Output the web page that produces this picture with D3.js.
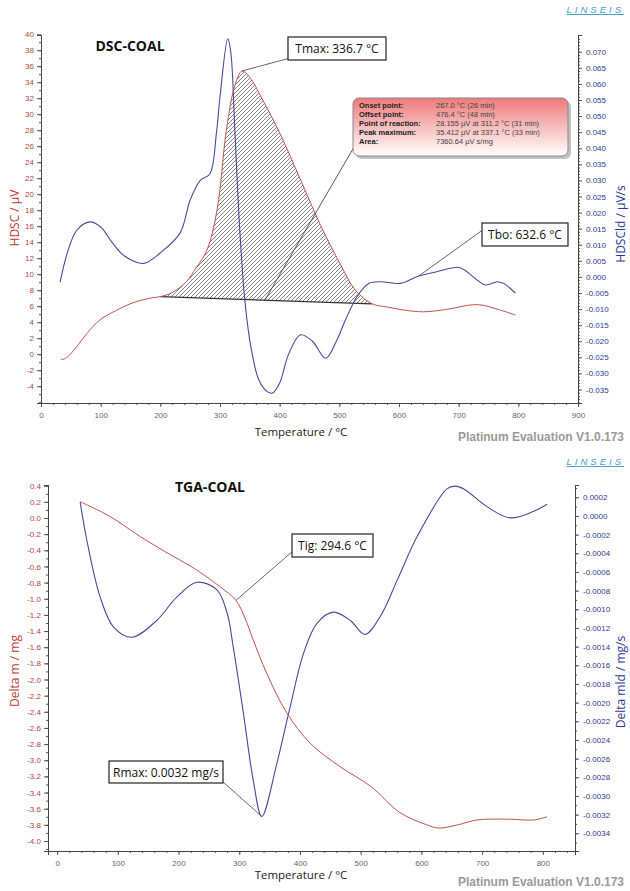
<!DOCTYPE html>
<html>
<head>
<meta charset="utf-8">
<script src="https://cdn.jsdelivr.net/npm/d3@7"></script>
<style>
  body { margin: 0; background: #fff; }
  svg { display: block; }
</style>
</head>
<body>
<svg id="chart"></svg>
<script>
const width = 630;
const height = 891;

// ---- DSC chart data ----
const dscTemp = [33, 37, 45, 60, 77, 99, 127, 155, 183, 200, 220, 244, 260, 278, 295, 311, 325, 337, 350, 370, 401, 435, 468, 502, 527, 555, 580, 610, 641, 680, 731, 770, 795];
const dscSignal = [-0.6, -0.65, -0.3, 0.95, 2.6, 4.3, 5.5, 6.45, 7.0, 7.2, 7.7, 9.1, 10.8, 13.0, 18.0, 28.2, 33.6, 35.4, 34.6, 32.0, 27.5, 21.8, 16.2, 11.2, 8.0, 6.3, 5.9, 5.5, 5.3, 5.6, 6.2, 5.5, 4.9];
const dscDerivTemp = [32, 45, 60, 82, 100, 120, 140, 172, 200, 233, 250, 267, 283, 294, 300, 313, 318, 325, 333, 342, 352, 365, 378, 388, 400, 415, 435, 455, 477, 495, 510, 530, 550, 569, 602, 632, 663, 699, 711, 745, 764, 775, 795];
const dscDeriv = [-0.0016, 0.008, 0.0145, 0.0171, 0.0155, 0.0105, 0.0065, 0.0042, 0.0075, 0.0136, 0.0239, 0.030, 0.032, 0.0447, 0.056, 0.074, 0.07, 0.045, 0.015, -0.008, -0.022, -0.032, -0.0355, -0.0361, -0.033, -0.024, -0.018, -0.02, -0.0253, -0.02, -0.0135, -0.006, -0.002, -0.0015, -0.002, 0.0002, 0.0016, 0.003, 0.002, -0.0025, -0.0015, -0.002, -0.005];
const dscBaseline = [[200, 7.2], [555, 6.3]];
const dscXTicks = [0, 100, 200, 300, 400, 500, 600, 700, 800, 900];
const dscLeftTicks = d3.range(-4, 41, 2);
const dscRightTicks = [-0.035, -0.030, -0.025, -0.020, -0.015, -0.010, -0.005, 0.000, 0.005, 0.010, 0.015, 0.020, 0.025, 0.030, 0.035, 0.040, 0.045, 0.050, 0.055, 0.060, 0.065, 0.070];
const dscInfoLabels = ["Onset point:", "Offset point:", "Point of reaction:", "Peak maximum:", "Area:"];
const dscInfoValues = ["267.0 °C (26 min)", "476.4 °C (48 min)", "28.155 µV at 311.2 °C (31 min)", "35.412 µV at 337.1 °C (33 min)", "7360.64 µV s/mg"];

// ---- TGA chart data ----
const tgaTemp = [38, 50, 87, 137, 181, 225, 268, 294.6, 310, 323, 345, 378, 417, 466, 516, 565, 609, 628, 660, 691, 746, 785, 807];
const tgaMass = [0.2, 0.16, 0.02, -0.23, -0.43, -0.62, -0.85, -1.02, -1.25, -1.51, -1.92, -2.41, -2.79, -3.08, -3.32, -3.65, -3.8, -3.84, -3.8, -3.74, -3.73, -3.74, -3.70];
const tgaDerivTemp = [38, 49, 71, 93, 123, 164, 197, 230, 263, 280, 290, 307, 323, 337, 362, 384, 406, 428, 455, 483, 507, 532, 560, 593, 642, 655, 670, 708, 746, 785, 807];
const tgaDeriv = [0.00015, -0.00026, -0.00087, -0.00119, -0.0013, -0.00112, -0.00087, -0.00071, -0.00079, -0.00104, -0.0014, -0.00212, -0.00283, -0.00322, -0.00265, -0.00204, -0.00147, -0.00115, -0.00103, -0.00112, -0.00127, -0.00108, -0.00069, -0.00022, 0.00029, 0.00032, 0.00029, 0.0001, -0.00002, 0.00005, 0.000125];
const tgaXTicks = [0, 100, 200, 300, 400, 500, 600, 700, 800];
const tgaLeftTicks = d3.range(0.4, -4.01, -0.2).map(v => +v.toFixed(1));
const tgaRightTicks = d3.range(0.0002, -0.00341, -0.0002).map(v => +v.toFixed(4));

const redLine = "#c4524c";
const blueLine = "#4a4a9e";
const redText = "#b5453d";
const blueText = "#2e3a90";

const svg = d3.select("#chart").attr("width", width).attr("height", height);

const defs = svg.append("defs");
// hatch pattern for the reaction area
const hatch = defs.append("pattern")
  .attr("id", "hatch")
  .attr("patternUnits", "userSpaceOnUse")
  .attr("width", 4).attr("height", 4);
hatch.append("path")
  .attr("d", "M-1,1 l2,-2 M0,4 l4,-4 M3,5 l2,-2")
  .attr("stroke", "#333").attr("stroke-width", 0.6);
// pink gradient for the result box
const grad = defs.append("linearGradient").attr("id", "infoGrad").attr("x1", 0).attr("y1", 0).attr("x2", 0).attr("y2", 1);
grad.append("stop").attr("offset", "0%").attr("stop-color", "#ee7a7a");
grad.append("stop").attr("offset", "55%").attr("stop-color", "#f7c4c4");
grad.append("stop").attr("offset", "100%").attr("stop-color", "#ffffff");

const fmtFixed = (n) => (v) => v.toFixed(n);

// draws both axes, curves and the common texts of one panel
function drawPanel(p) {
  const g = svg.append("g");

  const x = d3.scaleLinear().domain(p.xDomain).range(p.xRange);
  const yL = d3.scaleLinear().domain(p.yLDomain).range([p.bottom, p.top]);
  const yR = d3.scaleLinear().domain(p.yRDomain).range([p.bottom, p.top]);

  // minor ticks first
  const xMinor = d3.axisBottom(x).tickValues(p.xMinor).tickSize(2).tickFormat("");
  g.append("g").attr("transform", `translate(0,${p.bottom})`).call(xMinor);
  const yLMinor = d3.axisLeft(yL).tickValues(p.yLMinor).tickSize(2).tickFormat("");
  g.append("g").attr("transform", `translate(${p.xRange[0]},0)`).call(yLMinor);
  const yRMinor = d3.axisRight(yR).tickValues(p.yRMinor).tickSize(2).tickFormat("");
  g.append("g").attr("transform", `translate(${p.xRange[1]},0)`).call(yRMinor);

  // major axes
  const xAxisG = g.append("g").attr("transform", `translate(0,${p.bottom})`)
    .call(d3.axisBottom(x).tickValues(p.xTicks).tickSize(4).tickPadding(5).tickFormat(d => d));
  xAxisG.selectAll("text").attr("fill", "#666");

  const yLAxisG = g.append("g").attr("transform", `translate(${p.xRange[0]},0)`)
    .call(d3.axisLeft(yL).tickValues(p.yLTicks).tickSize(4).tickPadding(3).tickFormat(p.yLFormat));
  yLAxisG.selectAll("text").attr("fill", redText);

  const yRAxisG = g.append("g").attr("transform", `translate(${p.xRange[1]},0)`)
    .call(d3.axisRight(yR).tickValues(p.yRTicks).tickSize(4).tickPadding(4).tickFormat(p.yRFormat));
  yRAxisG.selectAll("text").attr("fill", blueText);

  g.selectAll(".tick line").attr("stroke", "#555");
  g.selectAll(".domain").attr("stroke", "#444");
  g.selectAll(".tick text").style("font-family", "Liberation Sans, Arial, sans-serif").style("font-size", "8px");

  // axis titles
  g.append("text")
    .attr("transform", `translate(${p.leftLabelX},${p.leftLabelY}) rotate(-90)`)
    .attr("text-anchor", "middle")
    .attr("fill", "#c23a34")
    .style("font-family", "Open Sans, sans-serif").style("font-size", "12px")
    .text(p.leftLabel);
  g.append("text")
    .attr("transform", `translate(${p.rightLabelX},${p.rightLabelY}) rotate(-90)`)
    .attr("text-anchor", "middle")
    .attr("fill", "#2b3a98")
    .style("font-family", "Open Sans, sans-serif").style("font-size", "12px")
    .text(p.rightLabel);
  g.append("text")
    .attr("x", 301).attr("y", p.xLabelY)
    .attr("text-anchor", "middle")
    .attr("fill", "#222")
    .style("font-family", "Open Sans, sans-serif").style("font-size", "11.5px")
    .text("Temperature / °C");
  g.append("text")
    .attr("x", p.titleX).attr("y", p.titleY)
    .attr("text-anchor", "middle")
    .attr("fill", "#111")
    .style("font-family", "Open Sans, sans-serif").style("font-size", "14px").style("font-weight", "bold")
    .text(p.title);
  g.append("text")
    .attr("x", 624).attr("y", p.footerY)
    .attr("text-anchor", "end")
    .attr("fill", "#9a9a9a")
    .style("font-family", "Liberation Sans, Arial, sans-serif").style("font-size", "12px").style("font-weight", "bold")
    .text("Platinum Evaluation V1.0.173");
  g.append("text")
    .attr("x", 624).attr("y", p.logoY)
    .attr("text-anchor", "end")
    .attr("fill", "#4a9cc8")
    .style("font-family", "Liberation Sans, Arial, sans-serif").style("font-size", "9.5px").style("font-style", "italic")
    .style("letter-spacing", "3px").style("text-decoration", "underline")
    .text("LINSEIS");

  return { g, x, yL, yR };
}

const curve = d3.curveCatmullRom.alpha(0.5);

// ================= DSC panel =================
const dsc = drawPanel({
  xDomain: [0, 900], xRange: [41, 578],
  top: 35, bottom: 403,
  yLDomain: [-6.1, 39.9], yRDomain: [-0.0392, 0.0752],
  xTicks: dscXTicks, xMinor: d3.range(0, 901, 20),
  yLTicks: dscLeftTicks, yLMinor: d3.range(-6, 40, 1), yLFormat: d => d,
  yRTicks: dscRightTicks, yRMinor: d3.range(-0.039, 0.075, 0.001), yRFormat: fmtFixed(3),
  leftLabel: "HDSC / µV", leftLabelX: 19, leftLabelY: 218,
  rightLabel: "HDSCld / µV/s", rightLabelX: 625, rightLabelY: 224,
  xLabelY: 436, title: "DSC-COAL", titleX: 130, titleY: 51,
  footerY: 441, logoY: 13
});

const dscPts = dscTemp.map((t, i) => [t, dscSignal[i]]);
const dscDerivPts = dscDerivTemp.map((t, i) => [t, dscDeriv[i]]);

// hatched reaction area between signal and baseline
const areaPts = dscPts.filter(d => d[0] >= dscBaseline[0][0] && d[0] <= dscBaseline[1][0]);
dsc.g.append("path")
  .attr("d", d3.line().x(d => dsc.x(d[0])).y(d => dsc.yL(d[1])).curve(curve)(areaPts) + "Z")
  .attr("fill", "url(#hatch)").attr("stroke", "none");
dsc.g.append("line")
  .attr("x1", dsc.x(dscBaseline[0][0])).attr("y1", dsc.yL(dscBaseline[0][1]))
  .attr("x2", dsc.x(dscBaseline[1][0])).attr("y2", dsc.yL(dscBaseline[1][1]))
  .attr("stroke", "#333").attr("stroke-width", 1.2);

dsc.g.append("path")
  .attr("d", d3.line().x(d => dsc.x(d[0])).y(d => dsc.yR(d[1])).curve(curve)(dscDerivPts))
  .attr("fill", "none").attr("stroke", blueLine).attr("stroke-width", 1.1);
dsc.g.append("path")
  .attr("d", d3.line().x(d => dsc.x(d[0])).y(d => dsc.yL(d[1])).curve(curve)(dscPts))
  .attr("fill", "none").attr("stroke", redLine).attr("stroke-width", 1);

// label box with a leader line
function callout(g, bx, by, bw, bh, text, fromX, fromY, toX, toY) {
  g.append("line").attr("x1", fromX).attr("y1", fromY).attr("x2", toX).attr("y2", toY)
    .attr("stroke", "#555").attr("stroke-width", 0.9);
  g.append("rect").attr("x", bx).attr("y", by).attr("width", bw).attr("height", bh)
    .attr("fill", "#fff").attr("stroke", "#333").attr("stroke-width", 1.3);
  g.append("text").attr("x", bx + bw / 2).attr("y", by + bh / 2 + 4.5)
    .attr("text-anchor", "middle").attr("fill", "#111")
    .style("font-family", "Open Sans, sans-serif").style("font-size", "12px")
    .text(text);
}

callout(dsc.g, 288, 37, 98, 23, "Tmax: 336.7 °C", 290, 58, dsc.x(337), dsc.yL(35.4));
callout(dsc.g, 482, 223, 86, 23, "Tbo: 632.6 °C", 484, 229, dsc.x(632.6), dsc.yR(0.0002));

// result info box
dsc.g.append("line")
  .attr("x1", 357).attr("y1", 142)
  .attr("x2", dsc.x(375)).attr("y2", dsc.yL(6.72))
  .attr("stroke", "#444").attr("stroke-width", 0.9);
dsc.g.append("rect").attr("x", 356).attr("y", 101).attr("width", 215).attr("height", 58).attr("rx", 6)
  .attr("fill", "#999").attr("opacity", 0.6);
dsc.g.append("rect").attr("x", 353).attr("y", 98).attr("width", 215).attr("height", 58).attr("rx", 6)
  .attr("fill", "url(#infoGrad)").attr("stroke", "#888").attr("stroke-width", 1);
dscInfoLabels.forEach((lab, i) => {
  dsc.g.append("text").attr("x", 359).attr("y", 108 + i * 8.9)
    .attr("fill", "#222").style("font-family", "Liberation Sans, Arial, sans-serif")
    .style("font-size", "7.5px").style("font-weight", "bold").text(lab);
  dsc.g.append("text").attr("x", 436).attr("y", 108 + i * 8.9)
    .attr("fill", "#444").style("font-family", "Liberation Sans, Arial, sans-serif")
    .style("font-size", "7.5px").text(dscInfoValues[i]);
});

// ================= TGA panel =================
const tga = drawPanel({
  xDomain: [-15, 853], xRange: [48, 575],
  top: 485, bottom: 851,
  yLDomain: [-4.124, 0.409], yRDomain: [-0.00359, 0.000332],
  xTicks: tgaXTicks, xMinor: d3.range(0, 841, 20),
  yLTicks: tgaLeftTicks, yLMinor: d3.range(-4.1, 0.41, 0.1), yLFormat: fmtFixed(1),
  yRTicks: tgaRightTicks, yRMinor: d3.range(-0.0035, 0.00031, 0.0001), yRFormat: fmtFixed(4),
  leftLabel: "Delta m / mg", leftLabelX: 19, leftLabelY: 671,
  rightLabel: "Delta mld / mg/s", rightLabelX: 625, rightLabelY: 682,
  xLabelY: 879, title: "TGA-COAL", titleX: 210, titleY: 492,
  footerY: 886, logoY: 465
});

const tgaPts = tgaTemp.map((t, i) => [t, tgaMass[i]]);
const tgaDerivPts = tgaDerivTemp.map((t, i) => [t, tgaDeriv[i]]);

tga.g.append("path")
  .attr("d", d3.line().x(d => tga.x(d[0])).y(d => tga.yR(d[1])).curve(curve)(tgaDerivPts))
  .attr("fill", "none").attr("stroke", blueLine).attr("stroke-width", 1.1);
tga.g.append("path")
  .attr("d", d3.line().x(d => tga.x(d[0])).y(d => tga.yL(d[1])).curve(curve)(tgaPts))
  .attr("fill", "none").attr("stroke", redLine).attr("stroke-width", 1);

callout(tga.g, 292, 534, 81, 23, "Tig: 294.6 °C", 293, 551, tga.x(294.6), tga.yL(-1.02));
callout(tga.g, 109, 761, 114, 22, "Rmax: 0.0032 mg/s", 222, 781, tga.x(337), tga.yR(-0.00322));
</script>
</body>
</html>
